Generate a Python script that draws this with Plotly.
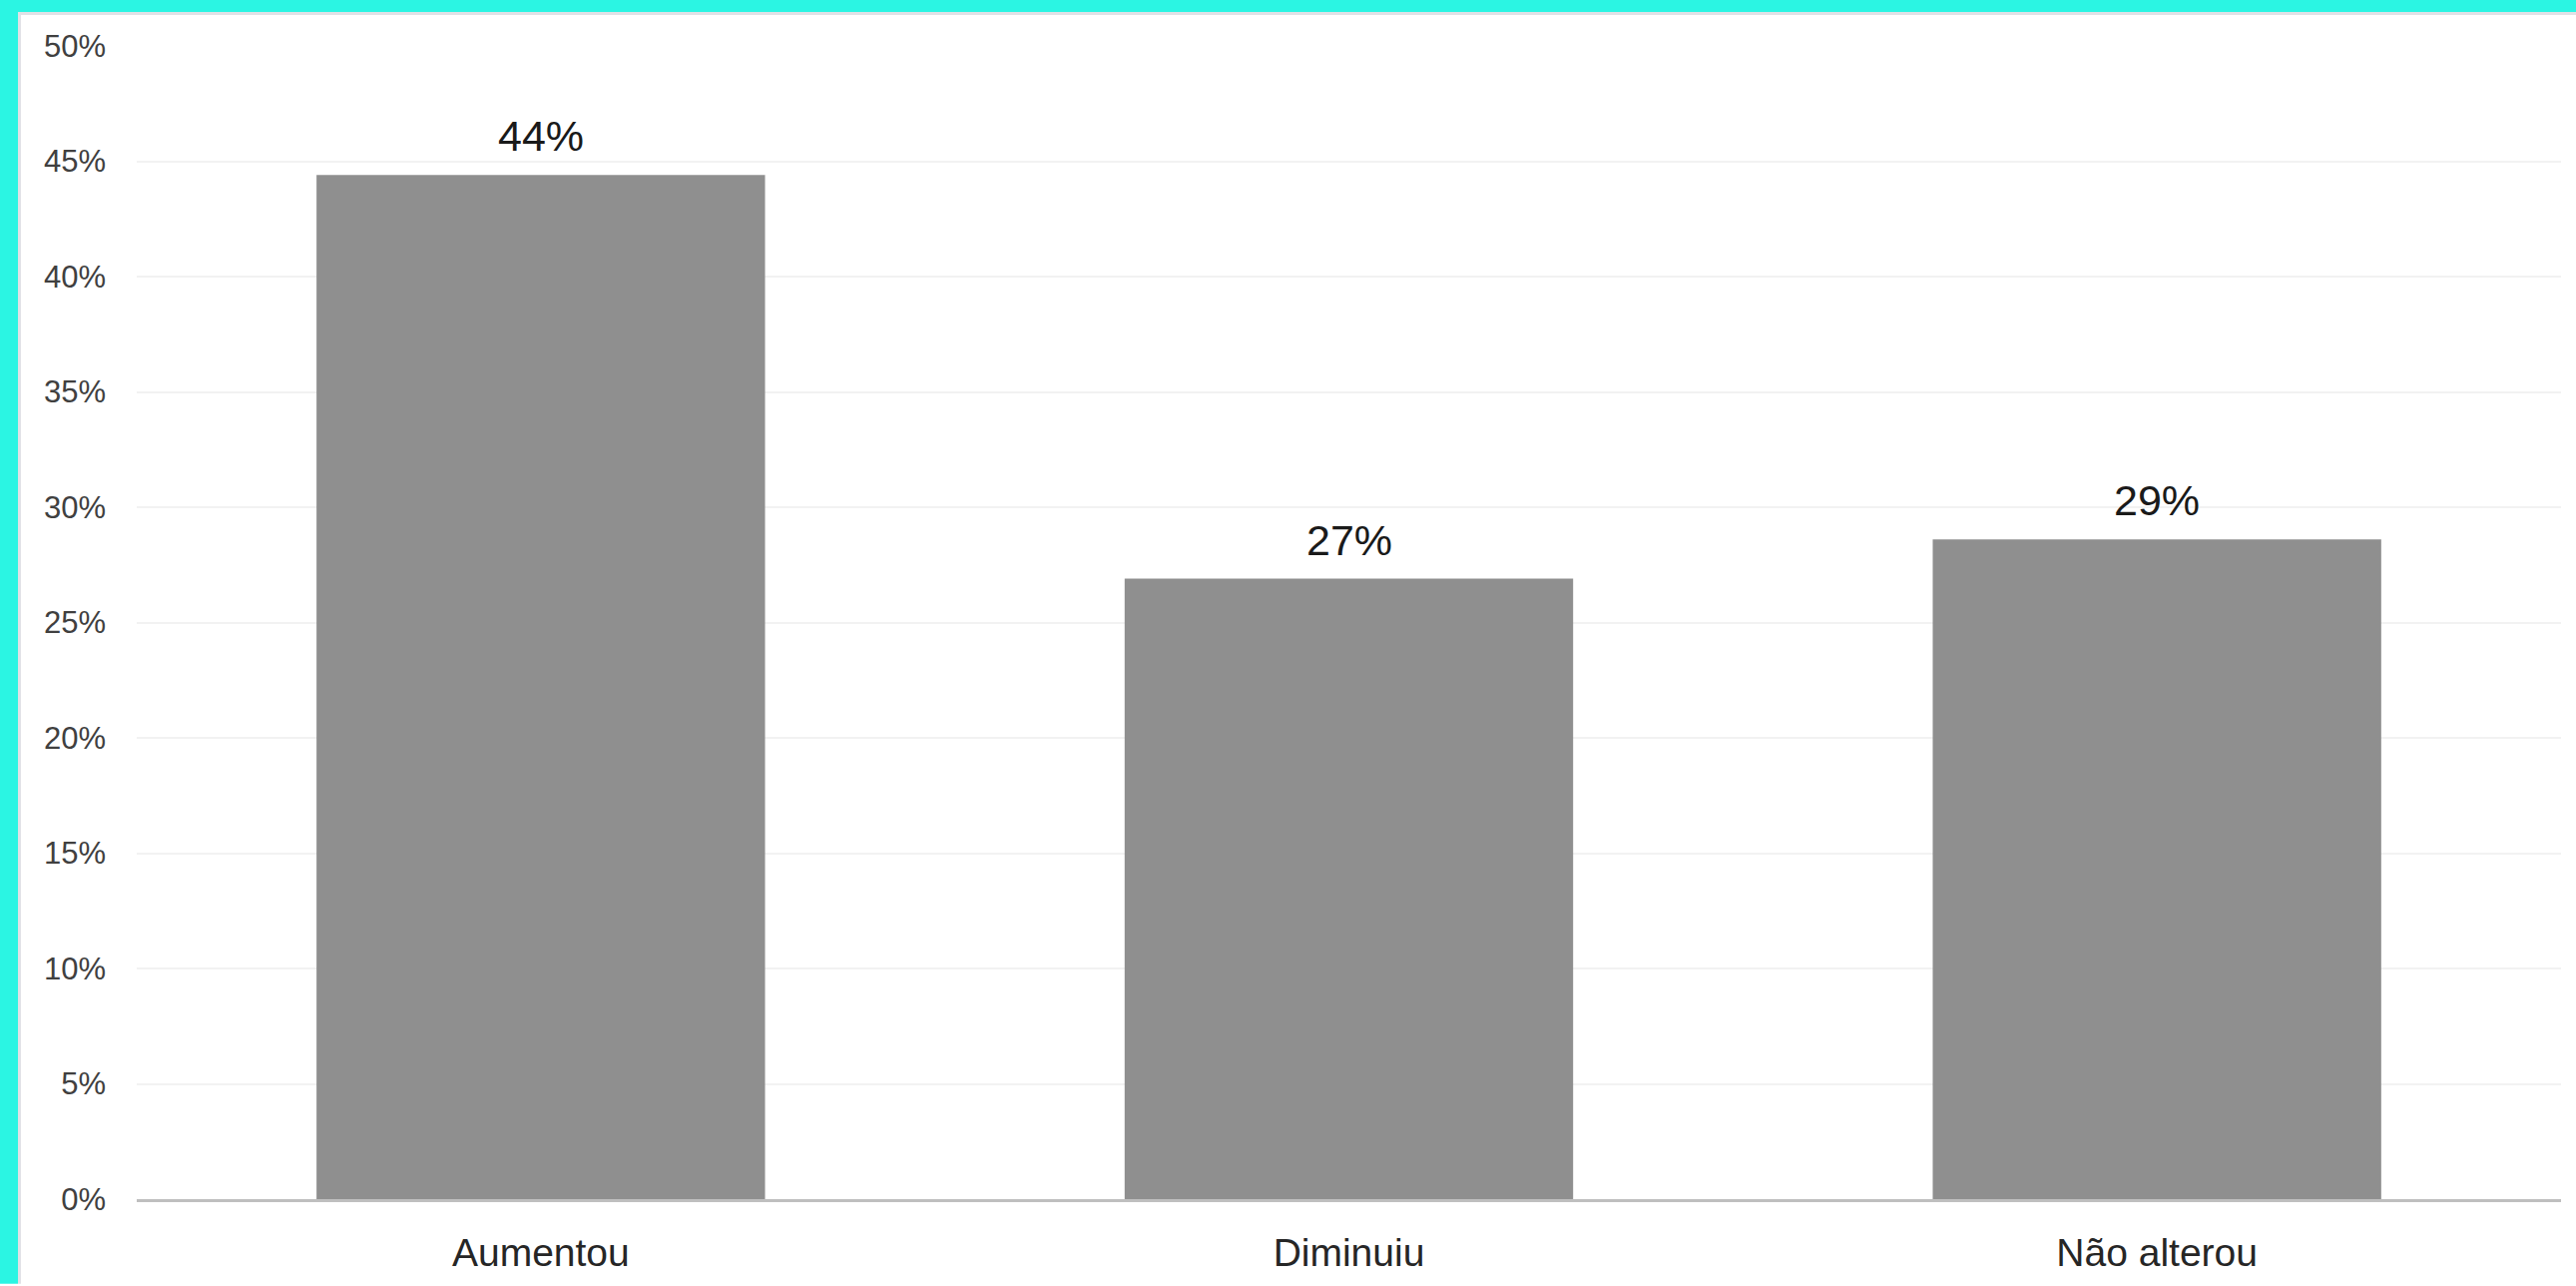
import plotly.graph_objects as go

# ---- data ----
categories = ["Aumentou", "Diminuiu", "Não alterou"]
values = [44.4, 26.9, 28.6]
value_labels = ["44%", "27%", "29%"]
y_tick_values = [0, 5, 10, 15, 20, 25, 30, 35, 40, 45, 50]
y_tick_labels = ["0%", "5%", "10%", "15%", "20%", "25%", "30%", "35%", "40%", "45%", "50%"]

W, H = 2581, 1288
L, R, T, B = 137, 15, 46, 85
PW, PH = W - L - R, H - T - B


def px_x(p):
    return (p - L) / PW


def px_y(p):
    return (H - B - p) / PH


fig = go.Figure()
fig.add_trace(go.Bar(
    x=categories,
    y=values,
    marker=dict(color="#8f8f8f", line=dict(width=0)),
    hoverinfo="skip",
))

for c, v, t in zip(categories, values, value_labels):
    fig.add_annotation(
        x=c, y=v, xref="x", yref="y", text=t, showarrow=False,
        yanchor="bottom", yshift=13,
        font=dict(family="Liberation Sans, Arial, sans-serif", size=43, color="#1a1a1a"),
    )

shapes = [
    # cyan frame (left and top)
    dict(type="rect", xref="paper", yref="paper", x0=px_x(0), x1=px_x(18), y0=px_y(H), y1=px_y(0),
         fillcolor="#2bf5e3", line=dict(width=0), layer="above"),
    dict(type="rect", xref="paper", yref="paper", x0=px_x(0), x1=px_x(W), y0=px_y(12), y1=px_y(0),
         fillcolor="#2bf5e3", line=dict(width=0), layer="above"),
    # thin gray inner edge
    dict(type="rect", xref="paper", yref="paper", x0=px_x(18), x1=px_x(21), y0=px_y(H), y1=px_y(12),
         fillcolor="#e1e1e6", line=dict(width=0), layer="above"),
    dict(type="rect", xref="paper", yref="paper", x0=px_x(18), x1=px_x(W), y0=px_y(15), y1=px_y(12),
         fillcolor="#e1e1e6", line=dict(width=0), layer="above"),
]

fig.update_layout(
    width=W, height=H,
    margin=dict(l=L, r=R, t=T, b=B, pad=0),
    paper_bgcolor="white",
    plot_bgcolor="white",
    bargap=0.445,
    showlegend=False,
    shapes=shapes,
    hovermode=False,
    font=dict(family="Liberation Sans, Arial, sans-serif", color="#333333"),
    xaxis=dict(
        showgrid=False,
        showline=True, linecolor="#bfbfbf", linewidth=3,
        ticks="",
        tickfont=dict(size=39, color="#262626"),
        ticklabelstandoff=17,
    ),
    yaxis=dict(
        range=[0, 50],
        tickvals=y_tick_values,
        ticktext=y_tick_labels,
        showgrid=True, gridcolor="#f2f2f2", gridwidth=2,
        zeroline=False,
        showline=False,
        ticks="",
        tickfont=dict(size=31, color="#404040"),
        ticklabelstandoff=30,
    ),
)

fig.write_html(
    "out.html",
    config={"displayModeBar": False},
    post_script="document.body.style.margin='0';document.body.style.padding='0';document.body.style.overflow='hidden';",
)
